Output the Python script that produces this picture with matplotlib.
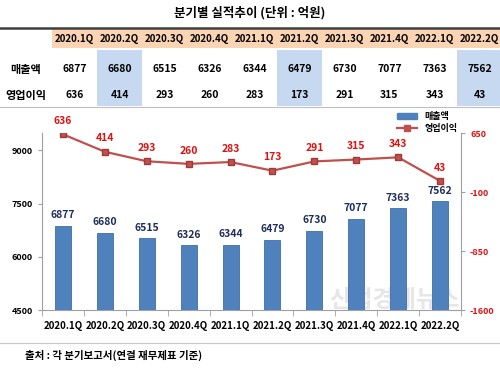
import matplotlib
matplotlib.use("Agg")
import matplotlib.pyplot as plt
from matplotlib.patches import Rectangle
from matplotlib.lines import Line2D

plt.rcParams['font.family'] = ['Noto Sans CJK KR', 'DejaVu Sans']
plt.rcParams['font.weight'] = 'bold'
plt.rcParams['axes.unicode_minus'] = False

quarters = ['2020.1Q', '2020.2Q', '2020.3Q', '2020.4Q', '2021.1Q',
            '2021.2Q', '2021.3Q', '2021.4Q', '2022.1Q', '2022.2Q']
sales = [6877, 6680, 6515, 6326, 6344, 6479, 6730, 7077, 7363, 7562]
profit = [636, 414, 293, 260, 283, 173, 291, 315, 343, 43]
highlight = [1, 5, 9]
left_ticks = [4500, 6000, 7500, 9000]
right_ticks = [-1600, -850, -100, 650]

fig = plt.figure(figsize=(5, 3.7), dpi=100)

# background layer in pixel coords for the table
bg = fig.add_axes([0, 0, 1, 1])
bg.set_xlim(0, 500)
bg.set_ylim(370, 0)
bg.axis('off')

bg.text(250, 13, '분기별 실적추이 (단위 : 억원)', ha='center', va='center', fontsize=9)
bg.plot([0, 500], [28, 28], color='#404040', lw=1.8)
bg.add_patch(Rectangle((52, 29), 448, 19, color='#fbd4b4', lw=0))
for i in highlight:
    bg.add_patch(Rectangle((52 + 45 * i, 50), 45, 56, color='#c6d9f1', lw=0))
bg.plot([0, 500], [106.5, 106.5], color='#bfbfbf', lw=0.8)

bg.text(26, 69, '매출액', ha='center', va='center', fontsize=8)
bg.text(26, 95, '영업이익', ha='center', va='center', fontsize=8)
for i, q in enumerate(quarters):
    cx = 74.5 + 45 * i
    bg.text(cx, 38.5, q, ha='center', va='center', fontsize=7)
    bg.text(cx, 69, str(sales[i]), ha='center', va='center', fontsize=7.5)
    bg.text(cx, 95, str(profit[i]), ha='center', va='center', fontsize=7.5)

bg.plot([0, 500], [343, 343], color='#c8c8c8', lw=0.8)
bg.text(25, 355, '출처 : 각 분기보고서(연결 재무제표 기준)', ha='left', va='center', fontsize=7.5)
bg.text(395, 300, '산업경제뉴스', ha='center', va='center', fontsize=17,
        color='#e0e0e0', alpha=0.8, zorder=0)

# chart
ax = fig.add_axes([0.084, 0.162, 0.838, 0.478])
ax.patch.set_alpha(0)
x = list(range(len(quarters)))
ax.bar(x, sales, width=0.38, color='#4f81bd', edgecolor='#3d6ea8', lw=0.6)
ax.set_xlim(-0.5, 9.5)
ax.set_ylim(4500, 9480)
ax.set_yticks(left_ticks)
ax.set_xticks(x)
ax.set_xticklabels(quarters, fontsize=7)
ax.set_xticks([i + 0.5 for i in range(-1, 10)], minor=True)
ax.tick_params(axis='x', which='major', length=0, pad=8)
ax.tick_params(axis='x', which='minor', length=4, color='#a0a0a0', direction='out')
ax.tick_params(axis='y', labelsize=6.5, length=3, color='#a0a0a0')
for s in ['top', 'right']:
    ax.spines[s].set_visible(False)
for s in ['left', 'bottom']:
    ax.spines[s].set_color('#a0a0a0')
for i, v in enumerate(sales):
    ax.annotate(str(v), (i, v), xytext=(0, 4), textcoords='offset points',
                ha='center', va='bottom', fontsize=7.5, color='#1f2d5a')

ax2 = ax.twinx()
ax2.plot(x, profit, color='#c0504d', lw=1.6, marker='s', markersize=4,
         markerfacecolor='#c0504d', markeredgecolor='#a03a38')
ax2.set_ylim(-1600, 650)
ax2.set_yticks(right_ticks)
ax2.tick_params(axis='y', labelsize=6.5, labelcolor='#e01010', length=3, color='#a0a0a0')
ax2.spines['top'].set_visible(False)
ax2.spines['left'].set_visible(False)
ax2.spines['bottom'].set_visible(False)
ax2.spines['right'].set_color('#a0a0a0')
for i, v in enumerate(profit):
    ax2.annotate(str(v), (i, v), xytext=(0, 6), textcoords='offset points',
                 ha='center', va='bottom', fontsize=7.5, color='#e01010')

handles = [Rectangle((0, 0), 1, 1, color='#4f81bd'),
           Line2D([], [], color='#c0504d', lw=1.6, marker='s', markersize=4)]
ax2.legend(handles, ['매출액', '영업이익'], loc='upper right',
           bbox_to_anchor=(1.0, 1.14), frameon=False, fontsize=6.5,
           handlelength=2.2, handleheight=0.6, labelspacing=0.3, borderaxespad=0)

fig.savefig('out.png', dpi=100)
